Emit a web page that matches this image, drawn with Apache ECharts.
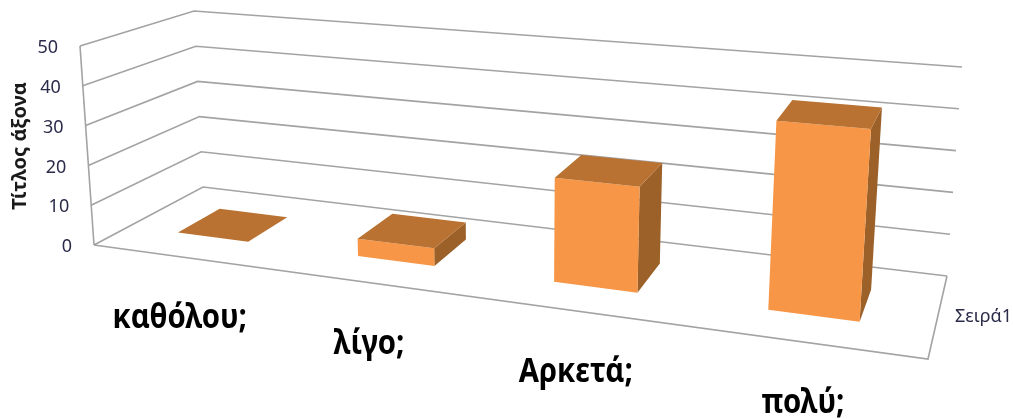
<!DOCTYPE html>
<html><head><meta charset="utf-8">
<style>html,body{margin:0;padding:0;background:#fff}#c{width:1013px;height:419px}</style>
<script src="https://cdn.jsdelivr.net/npm/echarts@6/dist/echarts.min.js"></script>
</head><body><div id="c"></div>
<script>
const categories = ['καθόλου;', 'λίγο;', 'Αρκετά;', 'πολύ;'];
const values = [0, 4.3, 24.5, 42.5];
const yTicks = [0, 10, 20, 30, 40, 50];
const seriesName = 'Σειρά1';
const axisTitle = 'Τίτλος άξονα';

// scene: where the corners of the 3D box land on the page
const floorQuad = [[94,245],[928,359],[947,276],[203,187]]; // front-left, front-right, back-right, back-left
const topFL=[80,46], topBR=[962,67], topBL=[194,11];
const camLift = -0.04;
const barFrac = 0.4, depthFrom = 0.3, depthTo = 0.7, barShift = -0.004;

const [[x0,y0],[x1,y1],[x2,y2],[x3,y3]] = floorQuad;
const dx1=x1-x2, dx2=x3-x2, sx=x0-x1+x2-x3, dy1=y1-y2, dy2=y3-y2, sy=y0-y1+y2-y3;
const den=dx1*dy2-dx2*dy1, g=(sx*dy2-dx2*sy)/den, h=(dx1*sy-sx*dy1)/den;
const a=x1-x0+g*x1, b=x3-x0+h*x3, d=y1-y0+g*y1, e=y3-y0+h*y3;
const floorH=(u,v)=>{const k=g*u+h*v+1; return [(a*u+b*v+x0)/k,(d*u+e*v+y0)/k];};
// the top plane is parallel to the floor, so it shares the floor's vanishing line
const gT=g/(1+camLift), hT=h/(1+camLift);
const nBL=[topBL[0]*(1+hT),topBL[1]*(1+hT)], nBR=[topBR[0]*(1+gT+hT),topBR[1]*(1+gT+hT)];
const topH=(u,v)=>{const k=gT*u+hT*v+1;
  return [0,1].map(c=>(topFL[c]+(nBL[c]-topFL[c])*v+(nBR[c]-nBL[c])*u)/k);};
function project(u,v,w){
  const f=floorH(u,v), t=topH(u,v);
  return [f[0]+(t[0]-f[0])*w, f[1]+(t[1]-f[1])*w];
}
const GW=1013, GH=419;
const norm = (api,cat,val)=>{const p=api.coord([cat,val]); return [p[0]/GW, 1-p[1]/GH];};
const LINE={stroke:'#a3a3a3',lineWidth:1.6,fill:null};
const poly=(pts,style)=>({type:'polygon',shape:{points:pts},style});
const poly2=(pts)=>({type:'polyline',shape:{points:pts},style:LINE});

const chart=echarts.init(document.getElementById('c'),null,{renderer:'canvas'});
chart.setOption({
  animation:false,
  grid:{left:0,right:0,top:0,bottom:0},
  xAxis:{type:'category',data:categories,show:false},
  yAxis:{type:'value',min:0,max:50,interval:10,show:false},
  graphic:[
    {type:'text',x:20,y:146,rotation:Math.PI/2,
     style:{text:axisTitle,font:'bold 20px "Noto Sans"',fill:'#1a1a1a',align:'center',verticalAlign:'middle'}},
    {type:'text',x:955,y:317,
     style:{text:seriesName,font:'18px "Noto Sans"',fill:'#2b2b4a',align:'left',verticalAlign:'middle'}}
  ],
  series:[
    {type:'custom',name:'grid',silent:true,z:1,coordinateSystem:'cartesian2d',clip:false,
     data:yTicks.map(t=>[0,t]),
     renderItem(params,api){
       const w=norm(api,0,api.value(1))[1];
       const kids=[poly2([project(0,0,w),project(0,1,w),project(1,1,w)])];
       if(api.value(1)===0){
         kids.push(poly2([project(0,0,0),project(1,0,0),project(1,1,0)]));
         kids.push(poly2([project(0,0,0),project(0,0,1)]));
       }
       const p=project(0,0,w);
       kids.push({type:'text',x:p[0]-22,y:p[1]+2,style:{text:String(api.value(1)),font:'18px "Noto Sans"',fill:'#2b2b4a',align:'right',verticalAlign:'middle'}});
       return {type:'group',children:kids};
     }},
    {type:'custom',name:seriesName,z:2,coordinateSystem:'cartesian2d',clip:false,
     data:values.map((v,i)=>[i,v]),
     renderItem(params,api){
       const i=api.value(0), v=api.value(1);
       const [uc,w]=norm(api,i,v);
       const half=api.size([1,0])[0]/GW*barFrac/2;
       const u0=uc-half+barShift,u1=uc+half+barShift,v0=depthFrom,v1=depthTo;
       const FRONT={fill:'#f79646'},TOP={fill:'#b97232'},SIDE={fill:'#9c6029'};
       const kids=[];
       if(w>0){
         kids.push(poly([project(u1,v0,0),project(u1,v1,0),project(u1,v1,w),project(u1,v0,w)],SIDE));
         kids.push(poly([project(u0,v0,0),project(u1,v0,0),project(u1,v0,w),project(u0,v0,w)],FRONT));
       }
       kids.push(poly([project(u0,v0,w),project(u1,v0,w),project(u1,v1,w),project(u0,v1,w)],TOP));
       const l=project(uc,0,0);
       kids.push({type:'text',x:l[0]-3,y:l[1]+61,scaleX:0.86,style:{text:categories[i],font:'bold 34px "Noto Sans"',fill:'#000',align:'center',verticalAlign:'middle'}});
       return {type:'group',children:kids};
     }}
  ]
});
</script></body></html>
